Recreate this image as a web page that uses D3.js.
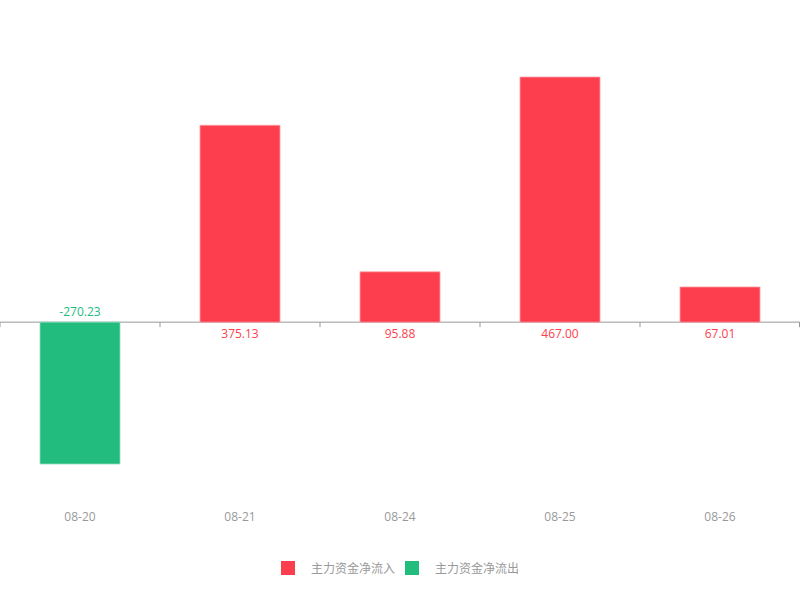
<!DOCTYPE html>
<html>
<head>
<meta charset="utf-8">
<script src="https://cdn.jsdelivr.net/npm/d3@7"></script>
<style>
  body { margin: 0; background: #fff; }
  text { font-family: "Open Sans", "Noto Sans CJK SC", sans-serif; }
</style>
</head>
<body>
<div id="chart"></div>
<script>
const dates = ["08-20", "08-21", "08-24", "08-25", "08-26"];
const values = [-270.23, 375.13, 95.88, 467.00, 67.01];
const seriesNames = ["主力资金净流入", "主力资金净流出"];

const width = 800;
const height = 600;
const red = "#fc3e4e";
const green = "#21bc7e";

const svg = d3.select("#chart").append("svg")
  .attr("width", width)
  .attr("height", height);

// horizontal band scale over the full width
const x = d3.scaleBand()
  .domain(dates)
  .range([0, 800])
  .paddingInner(0.5)
  .paddingOuter(0.25);

const y = d3.scaleLinear()
  .domain([d3.min(values), d3.max(values)])
  .range([464, 77]);

const y0 = y(0);

// axis at zero with ticks at band boundaries
const xAxis = svg.append("g")
  .attr("transform", `translate(0,${y0})`);
xAxis.append("line")
  .attr("x1", 0).attr("x2", 800)
  .attr("stroke", "#999").attr("stroke-width", 1);
const step = x.step();
xAxis.selectAll("line.tick")
  .data(d3.range(dates.length + 1))
  .join("line")
  .attr("class", "tick")
  .attr("x1", i => Math.min(x(dates[0]) - x.bandwidth() / 2 + i * step, 799.5))
  .attr("x2", i => Math.min(x(dates[0]) - x.bandwidth() / 2 + i * step, 799.5))
  .attr("y1", 0).attr("y2", 5)
  .attr("stroke", "#999");

// bars
svg.append("g")
  .selectAll("rect")
  .data(values)
  .join("rect")
  .attr("x", (d, i) => x(dates[i]))
  .attr("width", x.bandwidth())
  .attr("y", d => d >= 0 ? y(d) : y0)
  .attr("height", d => Math.abs(y(d) - y0))
  .attr("fill", d => d >= 0 ? red : green)
  .attr("stroke", d => d >= 0 ? "#fca0a8" : "#8fdcbc")
  .attr("stroke-width", 0.8);

// value labels on the opposite side of the axis
svg.append("g")
  .selectAll("text")
  .data(values)
  .join("text")
  .attr("x", (d, i) => x(dates[i]) + x.bandwidth() / 2)
  .attr("y", d => d >= 0 ? y0 + 16 : y0 - 6)
  .attr("text-anchor", "middle")
  .attr("font-size", 12)
  .attr("fill", d => d >= 0 ? red : green)
  .text(d => d.toFixed(2));

// category labels at the bottom
svg.append("g")
  .selectAll("text")
  .data(dates)
  .join("text")
  .attr("x", d => x(d) + x.bandwidth() / 2)
  .attr("y", 521)
  .attr("text-anchor", "middle")
  .attr("font-size", 12)
  .attr("fill", "#999")
  .text(d => d);

// legend
const legend = svg.append("g");
const legendX = [281, 405];
const legendColors = [red, green];
seriesNames.forEach((name, i) => {
  legend.append("rect")
    .attr("x", legendX[i]).attr("y", 561)
    .attr("width", 14).attr("height", 14)
    .attr("fill", legendColors[i]);
  legend.append("text")
    .attr("x", legendX[i] + 30).attr("y", 573)
    .attr("font-size", 12)
    .attr("fill", "#999")
    .style("font-family", "'Noto Sans CJK SC', sans-serif")
    .text(name);
});
</script>
</body>
</html>
